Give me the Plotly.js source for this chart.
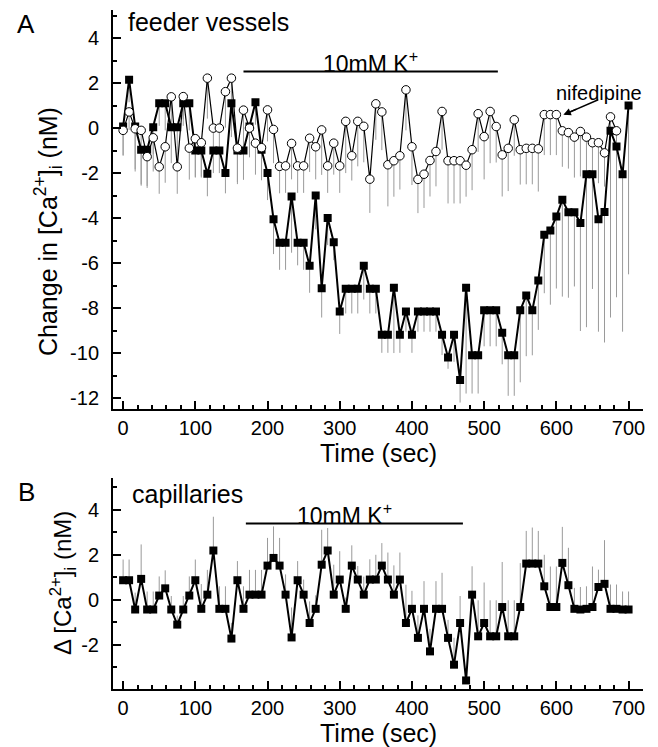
<!DOCTYPE html>
<html>
<head>
<meta charset="utf-8">
<script src="https://cdn.plot.ly/plotly-3.0.1.min.js"></script>
<style>html,body{margin:0;padding:0;background:#fff;}#chart{width:658px;height:747px;}</style>
</head>
<body>
<div id="chart"></div>
<script>
// sampling times (sec)
const timeSec = [0,8.3,16.7,25,33.3,41.7,50,58.3,66.7,75,83.3,91.7,100,108.3,116.7,125,133.3,141.7,150,158.3,166.7,175,183.3,191.7,200,208.3,216.7,225,233.3,241.7,250,258.3,266.7,275,283.3,291.7,300,308.3,316.7,325,333.3,341.7,350,358.3,366.7,375,383.3,391.7,400,408.3,416.7,425,433.3,441.7,450,458.3,466.7,475,483.3,491.7,500,508.3,516.7,525,533.3,541.7,550,558.3,566.7,575,583.3,591.7,600,608.3,616.7,625,633.3,641.7,650,658.3,666.7,675,683.3,691.7,700];

// Panel A: feeder vessels, filled squares (10mM K+)
const feederK = [0.07,2.15,0.07,-0.96,-0.96,0.04,1.1,1.1,0.04,0.04,1.1,1.1,-1.0,-1.0,-2.03,-1.0,-1.0,-2.0,1.1,-1.0,-1.0,0.07,1.15,-0.96,-2.0,-4.05,-5.1,-5.1,-3.04,-5.1,-5.1,-6.12,-3.0,-7.12,-4.0,-5.07,-8.15,-7.14,-7.14,-7.14,-6.12,-7.14,-7.14,-9.19,-9.19,-7.1,-9.19,-8.15,-9.19,-8.15,-8.15,-8.15,-8.15,-9.19,-10.2,-9.19,-11.2,-7.1,-10.1,-10.1,-8.1,-8.1,-8.1,-9.1,-10.1,-10.1,-8.1,-7.44,-8.1,-6.77,-4.74,-4.55,-3.93,-3.19,-3.74,-3.74,-4.22,-2.05,-2.05,-4.05,-3.73,-0.12,-0.82,-2.05,1.0];
const feederKErr = [1.3,1.0,1.9,1.6,1.7,1.2,1.0,1.2,1.6,1.8,1.0,1.2,1.2,1.2,1.0,1.0,1.0,0.9,1.5,1.4,1.3,1.2,1.0,1.0,1.2,1.55,1.2,1.2,2.5,1.0,1.2,1.2,1.5,1.3,1.2,0.8,1.0,1.1,1.1,1.1,1.5,1.1,1.1,0.8,0.8,2.9,0.8,0.9,0.8,0.9,0.9,0.9,0.9,0.9,0.5,1.2,1.0,4.7,1.7,1.7,1.6,1.6,1.6,1.4,1.8,1.8,3.2,2.7,2.0,2.2,2.6,3.3,3.2,4.3,3.8,3.3,4.8,6.8,5.1,5.0,5.8,8.3,6.7,7.0,7.5];

// Panel A: feeder vessels, open circles (nifedipine)
const feederNif = [-0.1,0.72,-0.03,-0.1,-1.27,-0.43,-1.72,-0.83,1.39,-1.72,1.4,-0.89,-0.47,-0.65,2.22,0.0,0.0,1.62,2.22,-0.89,0.8,0.0,-0.67,-0.87,0.81,-0.06,-1.7,-1.68,-0.68,-1.68,-1.68,-0.45,-0.83,-0.08,-1.68,-0.67,-1.68,0.3,-1.23,0.3,0.08,-2.27,1.08,0.72,-1.63,-1.45,-1.23,1.7,-0.83,-2.28,-2.05,-1.44,-1.04,0.74,-1.45,-1.45,-1.45,-1.65,-0.96,0.64,-0.38,0.74,0.07,-1.19,-0.9,0.37,-0.96,-0.9,-0.9,-0.92,0.6,0.6,0.6,-0.12,-0.2,-0.4,-0.15,-0.4,-0.65,-0.65,-1.1,0.5,-0.12];
const feederNifErr = [1.1,0.8,1.9,2.4,1.3,1.5,1.2,1.6,1.3,1.2,1.0,1.4,1.7,1.5,1.8,1.0,1.0,1.6,1.3,1.6,1.6,1.3,1.4,1.45,1.4,1.5,1.2,1.2,1.6,1.2,1.2,1.5,1.45,2.0,1.2,1.4,1.2,2.3,1.1,2.0,1.6,1.5,1.6,1.7,1.85,1.6,1.5,1.8,1.7,1.5,1.5,1.6,1.55,1.7,1.9,1.9,1.9,1.4,1.8,1.7,1.9,2.3,1.6,1.85,1.9,1.6,1.55,1.6,1.6,1.9,1.8,1.8,1.8,1.6,1.6,1.8,2.0,2.0,2.0,1.8,1.5,1.6,1.5];

// Panel B: capillaries
const capK = [0.86,0.86,-0.44,0.92,-0.44,-0.44,0.18,0.5,-0.44,-1.11,-0.44,0.18,0.86,-0.41,0.22,2.18,-0.41,-0.41,-1.73,0.86,-0.41,0.22,0.22,0.22,1.51,1.85,1.51,0.22,-1.68,0.86,0.22,-1.04,-0.41,1.55,2.18,0.22,0.89,-0.41,1.51,0.89,0.22,0.89,0.89,1.51,0.89,0.22,0.89,-1.04,-0.41,-1.7,-0.41,-2.3,-0.41,-0.41,-1.7,-2.89,-1.04,-3.59,0.22,-1.63,-1.04,-1.63,-1.63,-0.33,-1.63,-1.63,-0.33,1.6,1.6,1.6,0.59,-0.33,-0.33,1.63,0.64,-0.41,-0.44,-0.41,-0.33,0.56,0.7,-0.41,-0.41,-0.44,-0.44];
const capKErr = [0.92,0.92,0.75,1.53,0.8,0.8,0.85,0.8,0.6,0.4,0.6,0.85,0.92,1.1,1.1,1.5,1.0,1.0,0.7,0.85,1.0,1.1,1.1,1.1,1.23,1.4,1.23,0.9,1.33,0.85,0.67,0.96,0.6,1.55,1.0,1.33,1.26,0.5,0.9,0.6,0.8,0.9,1.1,1.0,1.2,1.3,1.2,1.7,0.8,1.0,1.23,1.0,1.23,1.6,0.8,1.2,1.2,0.5,1.26,1.6,1.8,1.6,1.6,2.0,1.6,1.6,1.95,1.45,1.6,1.45,1.4,1.8,1.8,1.6,1.66,0.93,1.0,1.0,1.8,0.77,1.94,1.08,1.08,0.8,0.8];

// tick labels
const xTicks = [0,100,200,300,400,500,600,700];
const xTickText = ['0','100','200','300','400','500','600','700'];
const yTicksA = [-12,-10,-8,-6,-4,-2,0,2,4];
const yTickTextA = ['-12','-10','-8','-6','-4','-2','0','2','4'];
const yTicksB = [-2,0,2,4];
const yTickTextB = ['-2','0','2','4'];

// K+ application periods (sec)
const kBarA = [166.7, 519];
const kBarB = [170, 470.6];

const FONT = 'Liberation Sans, Arial, Helvetica, sans-serif';
const ERRC = '#9a9a9a';
const zeros = a => a.map(() => 0);
const tNif = timeSec.slice(0, feederNif.length);
const f = s => ({family:FONT, size:s, color:'#000'});

const traces = [
  {x: timeSec, y: feederK, xaxis:'x', yaxis:'y', mode:'markers', marker:{size:1, opacity:0},
   error_y:{type:'data', symmetric:false, array:zeros(feederK), arrayminus:feederKErr, color:ERRC, thickness:1, width:0}, hoverinfo:'skip'},
  {x: tNif, y: feederNif, xaxis:'x', yaxis:'y', mode:'markers', marker:{size:1, opacity:0},
   error_y:{type:'data', symmetric:false, array:zeros(feederNif), arrayminus:feederNifErr, color:ERRC, thickness:1, width:0}, hoverinfo:'skip'},
  {x: timeSec, y: capK, xaxis:'x2', yaxis:'y2', mode:'markers', marker:{size:1, opacity:0},
   error_y:{type:'data', symmetric:false, array:capKErr, arrayminus:zeros(capK), color:ERRC, thickness:1, width:0}, hoverinfo:'skip'},
  {x: timeSec, y: feederK, xaxis:'x', yaxis:'y', mode:'lines+markers',
   line:{color:'#000', width:2}, marker:{symbol:'square', size:8, color:'#000'}},
  {x: tNif, y: feederNif, xaxis:'x', yaxis:'y', mode:'lines+markers',
   line:{color:'#000', width:1.2}, marker:{symbol:'circle', size:8.5, color:'#fff', line:{color:'#000', width:1}}},
  {x: timeSec, y: capK, xaxis:'x2', yaxis:'y2', mode:'lines+markers',
   line:{color:'#000', width:2}, marker:{symbol:'square', size:8, color:'#000'}}
];

const xAxisBase = {
  range:[-14, 720], tickmode:'array', tickvals:xTicks, ticktext:xTickText,
  ticks:'inside', ticklen:8, tickwidth:1.5, tickcolor:'#000',
  showline:true, linewidth:2, linecolor:'#000', showgrid:false, zeroline:false,
  tickfont:f(20),
  minor:{dtick:20, tick0:0, ticks:'inside', ticklen:4, tickwidth:1.5, tickcolor:'#000', showgrid:false}
};
const yAxisBase = {
  ticks:'inside', ticklen:8, tickwidth:1.5, tickcolor:'#000',
  showline:true, linewidth:2, linecolor:'#000', showgrid:false, zeroline:false,
  tickfont:f(20), ticklabelstandoff:8,
  minor:{dtick:1, tick0:0, ticks:'inside', ticklen:4, tickwidth:1.5, tickcolor:'#000', showgrid:false}
};

const H = 747, T = 10, B = 58, L = 113, R = 15;
const ph = H - T - B, pw = 658 - L - R;
const py = yPix => (H - B - yPix) / ph;
const px = xPix => (xPix - L) / pw;

const layout = {
  width:658, height:747,
  margin:{l:L, r:R, t:T, b:B},
  paper_bgcolor:'#fff', plot_bgcolor:'#fff', showlegend:false,
  font:f(14),
  xaxis:Object.assign({}, xAxisBase, {domain:[0,1], anchor:'y'}),
  yaxis:Object.assign({}, yAxisBase, {domain:[py(409.3),1], anchor:'x', range:[-12.5, 5.25],
    tickmode:'array', tickvals:yTicksA, ticktext:yTickTextA}),
  xaxis2:Object.assign({}, xAxisBase, {domain:[0,1], anchor:'y2'}),
  yaxis2:Object.assign({}, yAxisBase, {domain:[0, py(478)], anchor:'x2', range:[-3.97, 5.4],
    tickmode:'array', tickvals:yTicksB, ticktext:yTickTextB}),
  shapes:[
    {type:'line', xref:'x', yref:'y', x0:kBarA[0], x1:kBarA[1], y0:2.52, y1:2.52, line:{color:'#000', width:2}},
    {type:'line', xref:'x2', yref:'y2', x0:kBarB[0], x1:kBarB[1], y0:3.38, y1:3.38, line:{color:'#000', width:2}},
    {type:'line', xref:'x', yref:'y', x0:658, y0:1.26, x1:612, y1:0.62, line:{color:'#000', width:1.5}}
  ],
  annotations:[
    {text:'A', xref:'paper', yref:'paper', x:px(26), y:py(24), xanchor:'center', yanchor:'middle', showarrow:false, font:f(26)},
    {text:'B', xref:'paper', yref:'paper', x:px(26), y:py(492), xanchor:'center', yanchor:'middle', showarrow:false, font:f(26)},
    {text:'feeder vessels', xref:'paper', yref:'paper', x:px(126), y:py(22), xanchor:'left', yanchor:'middle', showarrow:false, font:f(25)},
    {text:'capillaries', xref:'paper', yref:'paper', x:px(130), y:py(494), xanchor:'left', yanchor:'middle', showarrow:false, font:f(25)},
    {text:'10mM K<sup>+</sup>', xref:'x', yref:'y', x:342, y:2.95, xanchor:'center', yanchor:'middle', showarrow:false, font:f(23)},
    {text:'10mM K<sup>+</sup>', xref:'x2', yref:'y2', x:306, y:3.8, xanchor:'center', yanchor:'middle', showarrow:false, font:f(23)},
    {text:'nifedipine', xref:'x', yref:'y', x:659, y:1.58, xanchor:'center', yanchor:'middle', showarrow:false, font:f(20)},
    {text:'Change in [Ca<sup>2+</sup>]<sub>i</sub> (nM)', xref:'paper', yref:'paper', x:px(48), y:py(232),
     xanchor:'center', yanchor:'middle', textangle:-90, showarrow:false, font:f(25)},
    {text:'\u0394 [Ca<sup>2+</sup>]<sub>i</sub> (nM)', xref:'paper', yref:'paper', x:px(63), y:py(583),
     xanchor:'center', yanchor:'middle', textangle:-90, showarrow:false, font:f(24)},
    {text:'Time (sec)', xref:'paper', yref:'paper', x:px(378), y:py(453), xanchor:'center', yanchor:'middle', showarrow:false, font:f(25)},
    {text:'Time (sec)', xref:'paper', yref:'paper', x:px(378), y:py(733), xanchor:'center', yanchor:'middle', showarrow:false, font:f(25)}
  ]
};

// arrow head toward the nifedipine marker
layout.annotations.push({text:'', xref:'x', yref:'y', x:609.7, y:0.59, axref:'x', ayref:'y', ax:630, ay:0.87,
  showarrow:true, arrowhead:2, arrowsize:1, arrowwidth:1.5, arrowcolor:'#000'});

Plotly.newPlot('chart', traces, layout, {displayModeBar:false});
</script>
</body>
</html>
